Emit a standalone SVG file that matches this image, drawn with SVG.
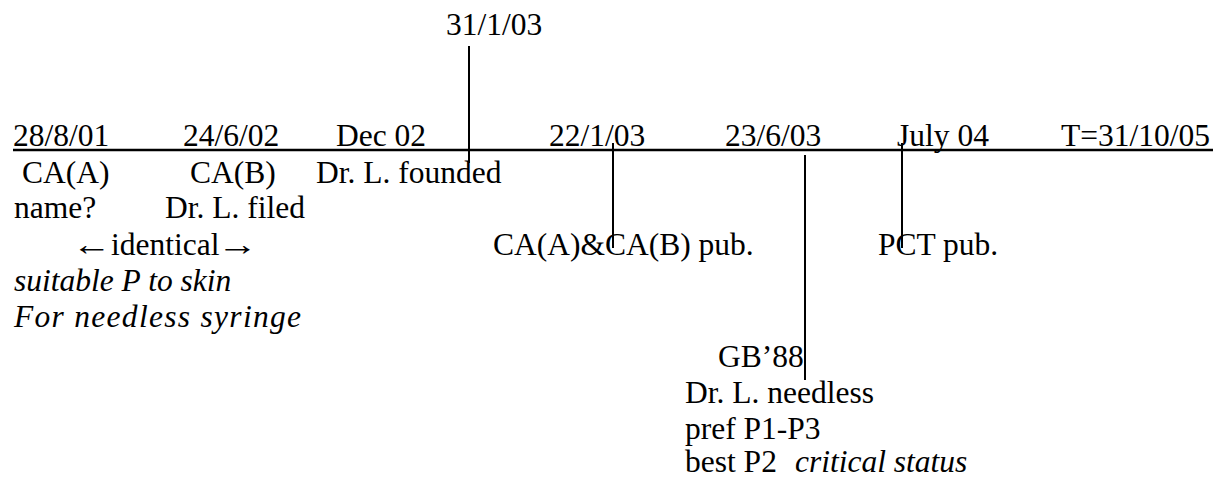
<svg xmlns="http://www.w3.org/2000/svg" width="1213" height="477" viewBox="0 0 1213 477">
<style>
text{font-family:"Liberation Serif","Times New Roman",serif;font-size:31.5px;fill:#000}
.i{font-style:italic}
.ln{stroke:#000;stroke-width:2;fill:none}
.axis{stroke:#000;stroke-width:2.5;fill:none}
</style>
<rect width="1213" height="477" fill="#fff"/>
<g id="connectors">
<line class="axis" x1="13" y1="150" x2="1213" y2="150"/>
<line class="ln" x1="469" y1="46" x2="469" y2="163"/>
<line class="ln" x1="613" y1="143" x2="613" y2="248"/>
<line class="ln" x1="805" y1="155" x2="805" y2="380"/>
<line class="ln" x1="902" y1="143" x2="902" y2="248"/>
</g>
<g id="n-280801">
<text x="13" y="146">28/8/01</text>
<text x="22" y="183">CA(A)</text>
<text x="14" y="218">name?</text>
</g>
<g id="n-240602">
<text x="183" y="146">24/6/02</text>
<text x="190" y="183">CA(B)</text>
<text x="165" y="218">Dr. L. filed</text>
</g>
<g id="n-identical">
<text transform="translate(72,255) scale(1.25,1)">←</text>
<text x="111" y="255">identical</text>
<text transform="translate(217,255) scale(1.3,1)">→</text>
<text class="i" x="14" y="291">suitable P to skin</text>
<text class="i" x="14" y="327" textLength="287" lengthAdjust="spacing">For needless syringe</text>
</g>
<g id="n-dec02">
<text x="336" y="146">Dec 02</text>
<text x="316" y="183">Dr. L. founded</text>
</g>
<g id="n-310103">
<text x="446" y="35">31/1/03</text>
</g>
<g id="n-220103">
<text x="549" y="146">22/1/03</text>
<text x="493" y="255">CA(A)&amp;CA(B) pub.</text>
</g>
<g id="n-230603">
<text x="725" y="146">23/6/03</text>
<text x="718" y="367">GB’88</text>
<text x="685" y="403">Dr. L. needless</text>
<text x="685" y="439">pref P1-P3</text>
<text x="685" y="472">best P2<tspan class="i" x="795">critical status</tspan></text>
</g>
<g id="n-july04">
<text x="897" y="146">July 04</text>
<text x="878" y="255">PCT pub.</text>
</g>
<g id="n-T">
<text x="1061" y="146">T=31/10/05</text>
</g>
</svg>
